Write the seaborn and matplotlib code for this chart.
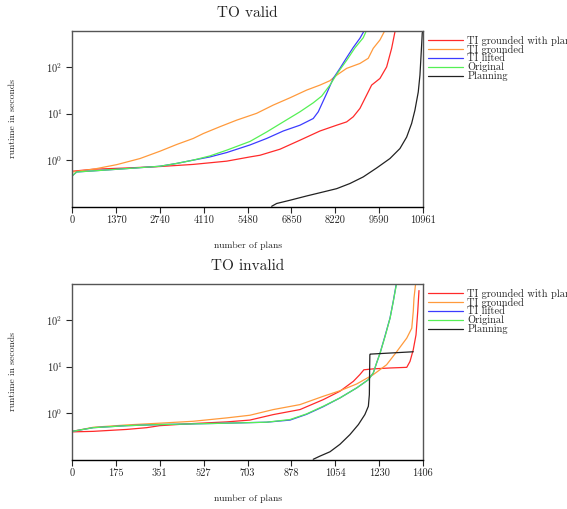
import matplotlib
matplotlib.use("Agg")
import matplotlib.pyplot as plt
import matplotlib.ticker as mticker
import numpy as np
import pandas as pd
import seaborn as sns

# --- TO valid (runtime curves, sorted) ---
valid_red_x = [0, 0, 656, 1700, 2741, 3781, 4825, 5553, 5866, 6491, 7116, 7741, 8263, 8575,
               8781, 8991, 9200, 9356, 9616, 9825, 9981, 10100]
valid_red_y = [0.01, 0.57, 0.63, 0.67, 0.72, 0.80, 0.94, 1.16, 1.26, 1.7, 2.66, 4.2, 5.6, 6.6,
               8.5, 12.9, 25, 41, 57, 101, 254, 650]
valid_orange_x = [0, 656, 1388, 2116, 2741, 3263, 3781, 4094, 4616, 5138, 5763, 6281, 6803,
                  7325, 7741, 8053, 8263, 8575, 8991, 9250, 9406, 9616, 9788]
valid_orange_y = [0.55, 0.63, 0.79, 1.07, 1.54, 2.15, 2.9, 3.7, 5.2, 7.2, 10.1, 15.2, 21.8,
                  32, 41, 51, 67, 94, 120, 155, 254, 385, 650]
valid_blue_x = [0, 22, 138, 656, 1700, 2741, 3263, 3781, 4303, 4825, 5553, 6075, 6594, 7116,
                7531, 7688, 7950, 8156, 8366, 8575, 8781, 8991, 9147]
valid_blue_y = [0.45, 0.47, 0.55, 0.58, 0.65, 0.73, 0.84, 0.99, 1.16, 1.44, 2.1, 2.9, 4.2, 5.6,
                7.8, 10.9, 27, 57, 94, 160, 265, 420, 650]
valid_green_x = [0, 22, 138, 656, 1700, 2741, 3263, 3781, 4303, 4825, 5553, 6075, 6594, 7116,
                 7531, 7794, 8053, 8263, 8575, 8834, 9094, 9210]
valid_green_y = [0.45, 0.47, 0.55, 0.58, 0.65, 0.73, 0.84, 0.99, 1.22, 1.62, 2.5, 4.0, 6.6,
                 10.9, 17, 23.7, 41, 70, 140, 260, 430, 650]
valid_black_x = [6231, 6388, 6803, 7325, 7844, 8263, 8678, 9094, 9513, 9928, 10241, 10450,
                 10606, 10709, 10813, 10866, 10919, 10938, 10961]
valid_black_y = [0.1, 0.115, 0.135, 0.167, 0.204, 0.24, 0.31, 0.43, 0.67, 1.07, 1.76, 3.1,
                 6.1, 11.8, 29, 67, 300, 535, 650]

# --- TO invalid ---
inv_red_x = [0, 84, 218, 298, 350, 485, 619, 712, 806, 913, 1006, 1073, 1127, 1153, 1169,
             1207, 1274, 1341, 1354, 1367, 1378, 1385, 1390]
inv_red_y = [0.39, 0.40, 0.44, 0.48, 0.53, 0.59, 0.64, 0.70, 0.92, 1.18, 1.93, 2.93, 4.8, 6.7,
             8.5, 8.9, 9.3, 9.6, 12.9, 23, 48, 154, 434]
inv_orange_x = [0, 84, 218, 350, 485, 619, 712, 806, 913, 1006, 1073, 1140, 1207, 1260, 1301,
                1341, 1361, 1367, 1370, 1377]
inv_orange_y = [0.40, 0.49, 0.55, 0.60, 0.66, 0.78, 0.89, 1.18, 1.51, 2.28, 3.0, 4.2, 6.7,
                10.9, 21, 41, 67, 154, 300, 650]
inv_blue_x = [0, 84, 218, 350, 485, 619, 779, 873, 939, 1006, 1073, 1140, 1187, 1207, 1220,
              1234, 1254, 1274, 1287, 1300]
inv_blue_y = [0.40, 0.48, 0.53, 0.56, 0.58, 0.60, 0.63, 0.70, 0.93, 1.36, 2.1, 3.45, 5.2, 7.3,
              11.9, 19.5, 46, 112, 258, 650]
inv_green_x = [0, 84, 218, 350, 485, 619, 779, 873, 939, 1006, 1073, 1140, 1187, 1207, 1220,
               1234, 1254, 1274, 1287, 1301]
inv_green_y = [0.40, 0.48, 0.53, 0.56, 0.58, 0.60, 0.63, 0.72, 0.95, 1.39, 2.1, 3.45, 5.2, 7.3,
               11.9, 19.5, 44.5, 110, 254, 650]
inv_black_x = [966, 993, 1033, 1073, 1113, 1147, 1173, 1187, 1191, 1192, 1193, 1194, 1367]
inv_black_y = [0.1, 0.117, 0.145, 0.21, 0.34, 0.56, 0.92, 1.39, 2.47, 7.9, 17.9, 18.5, 20.8]

labels = ["TI grounded with plans", "TI grounded", "TI lifted", "Original", "Planning"]
colors = ["#ff2a2a", "#ff9a3c", "#3c3cff", "#55f055", "#222222"]

valid_ticks = [0, 1370, 2740, 4110, 5480, 6850, 8220, 9590, 10961]
invalid_ticks = [0, 175, 351, 527, 703, 878, 1054, 1230, 1406]
y_ticks = [1, 10, 100]


def make_df(series):
    rows = []
    for lab, (xs, ys) in zip(labels, series):
        for x, y in zip(xs, ys):
            rows.append({"plans": x, "runtime": y, "config": lab})
    return pd.DataFrame(rows)


df_valid = make_df([(valid_red_x, valid_red_y), (valid_orange_x, valid_orange_y),
                    (valid_blue_x, valid_blue_y), (valid_green_x, valid_green_y),
                    (valid_black_x, valid_black_y)])
df_invalid = make_df([(inv_red_x, inv_red_y), (inv_orange_x, inv_orange_y),
                      (inv_blue_x, inv_blue_y), (inv_green_x, inv_green_y),
                      (inv_black_x, inv_black_y)])

sns.set_style("ticks")
plt.rcParams["font.family"] = ["cmr10", "DejaVu Serif"]
plt.rcParams["mathtext.fontset"] = "cm"
plt.rcParams["axes.unicode_minus"] = False

fig = plt.figure(figsize=(5.67, 5.09), dpi=100)
ax1 = fig.add_axes([0.1275, 0.5939, 0.6185, 0.3458])
ax2 = fig.add_axes([0.1275, 0.0969, 0.6185, 0.3457])

# powers of ten written as mathtext so the superscript renders in CM
pow10 = mticker.FuncFormatter(lambda v, pos: r"$10^{%d}$" % int(round(np.log10(v))))

panels = [(ax1, df_valid, "TO valid", valid_ticks), (ax2, df_invalid, "TO invalid", invalid_ticks)]
for ax, df, title, ticks in panels:
    sns.lineplot(data=df, x="plans", y="runtime", hue="config", hue_order=labels,
                 palette=colors, estimator=None, sort=False, units="config",
                 linewidth=0.9, ax=ax)
    ax.set_yscale("log")
    ax.set_ylim(0.098, 610)
    ax.set_xlim(ticks[0], ticks[-1])
    ax.set_xticks(ticks)
    ax.set_yticks(y_ticks)
    ax.yaxis.set_major_formatter(pow10)
    ax.yaxis.set_minor_locator(mticker.NullLocator())
    ax.tick_params(direction="out", length=4.5, width=0.8, labelsize=7.5)
    ax.tick_params(axis="x", pad=1.5)
    ax.tick_params(axis="y", pad=2.5)
    for s in ["left", "top", "right"]:
        ax.spines[s].set_color("#555555")
    ax.spines["bottom"].set_color("#000000")
    for s in ax.spines.values():
        s.set_linewidth(1.0)
    ax.set_title(title, fontsize=11, pad=10)
    ax.set_xlabel("number of plans", fontsize=7, labelpad=12)
    ax.set_ylabel("runtime in seconds", fontsize=7, labelpad=21)
    ax.legend(loc="upper left", bbox_to_anchor=(1.0, 1.0), frameon=False, fontsize=7.5,
              handlelength=3.3, handletextpad=0.45, labelspacing=-0.1, borderaxespad=0.3,
              borderpad=0.2, title=None)

fig.savefig("out.png", dpi=100)
